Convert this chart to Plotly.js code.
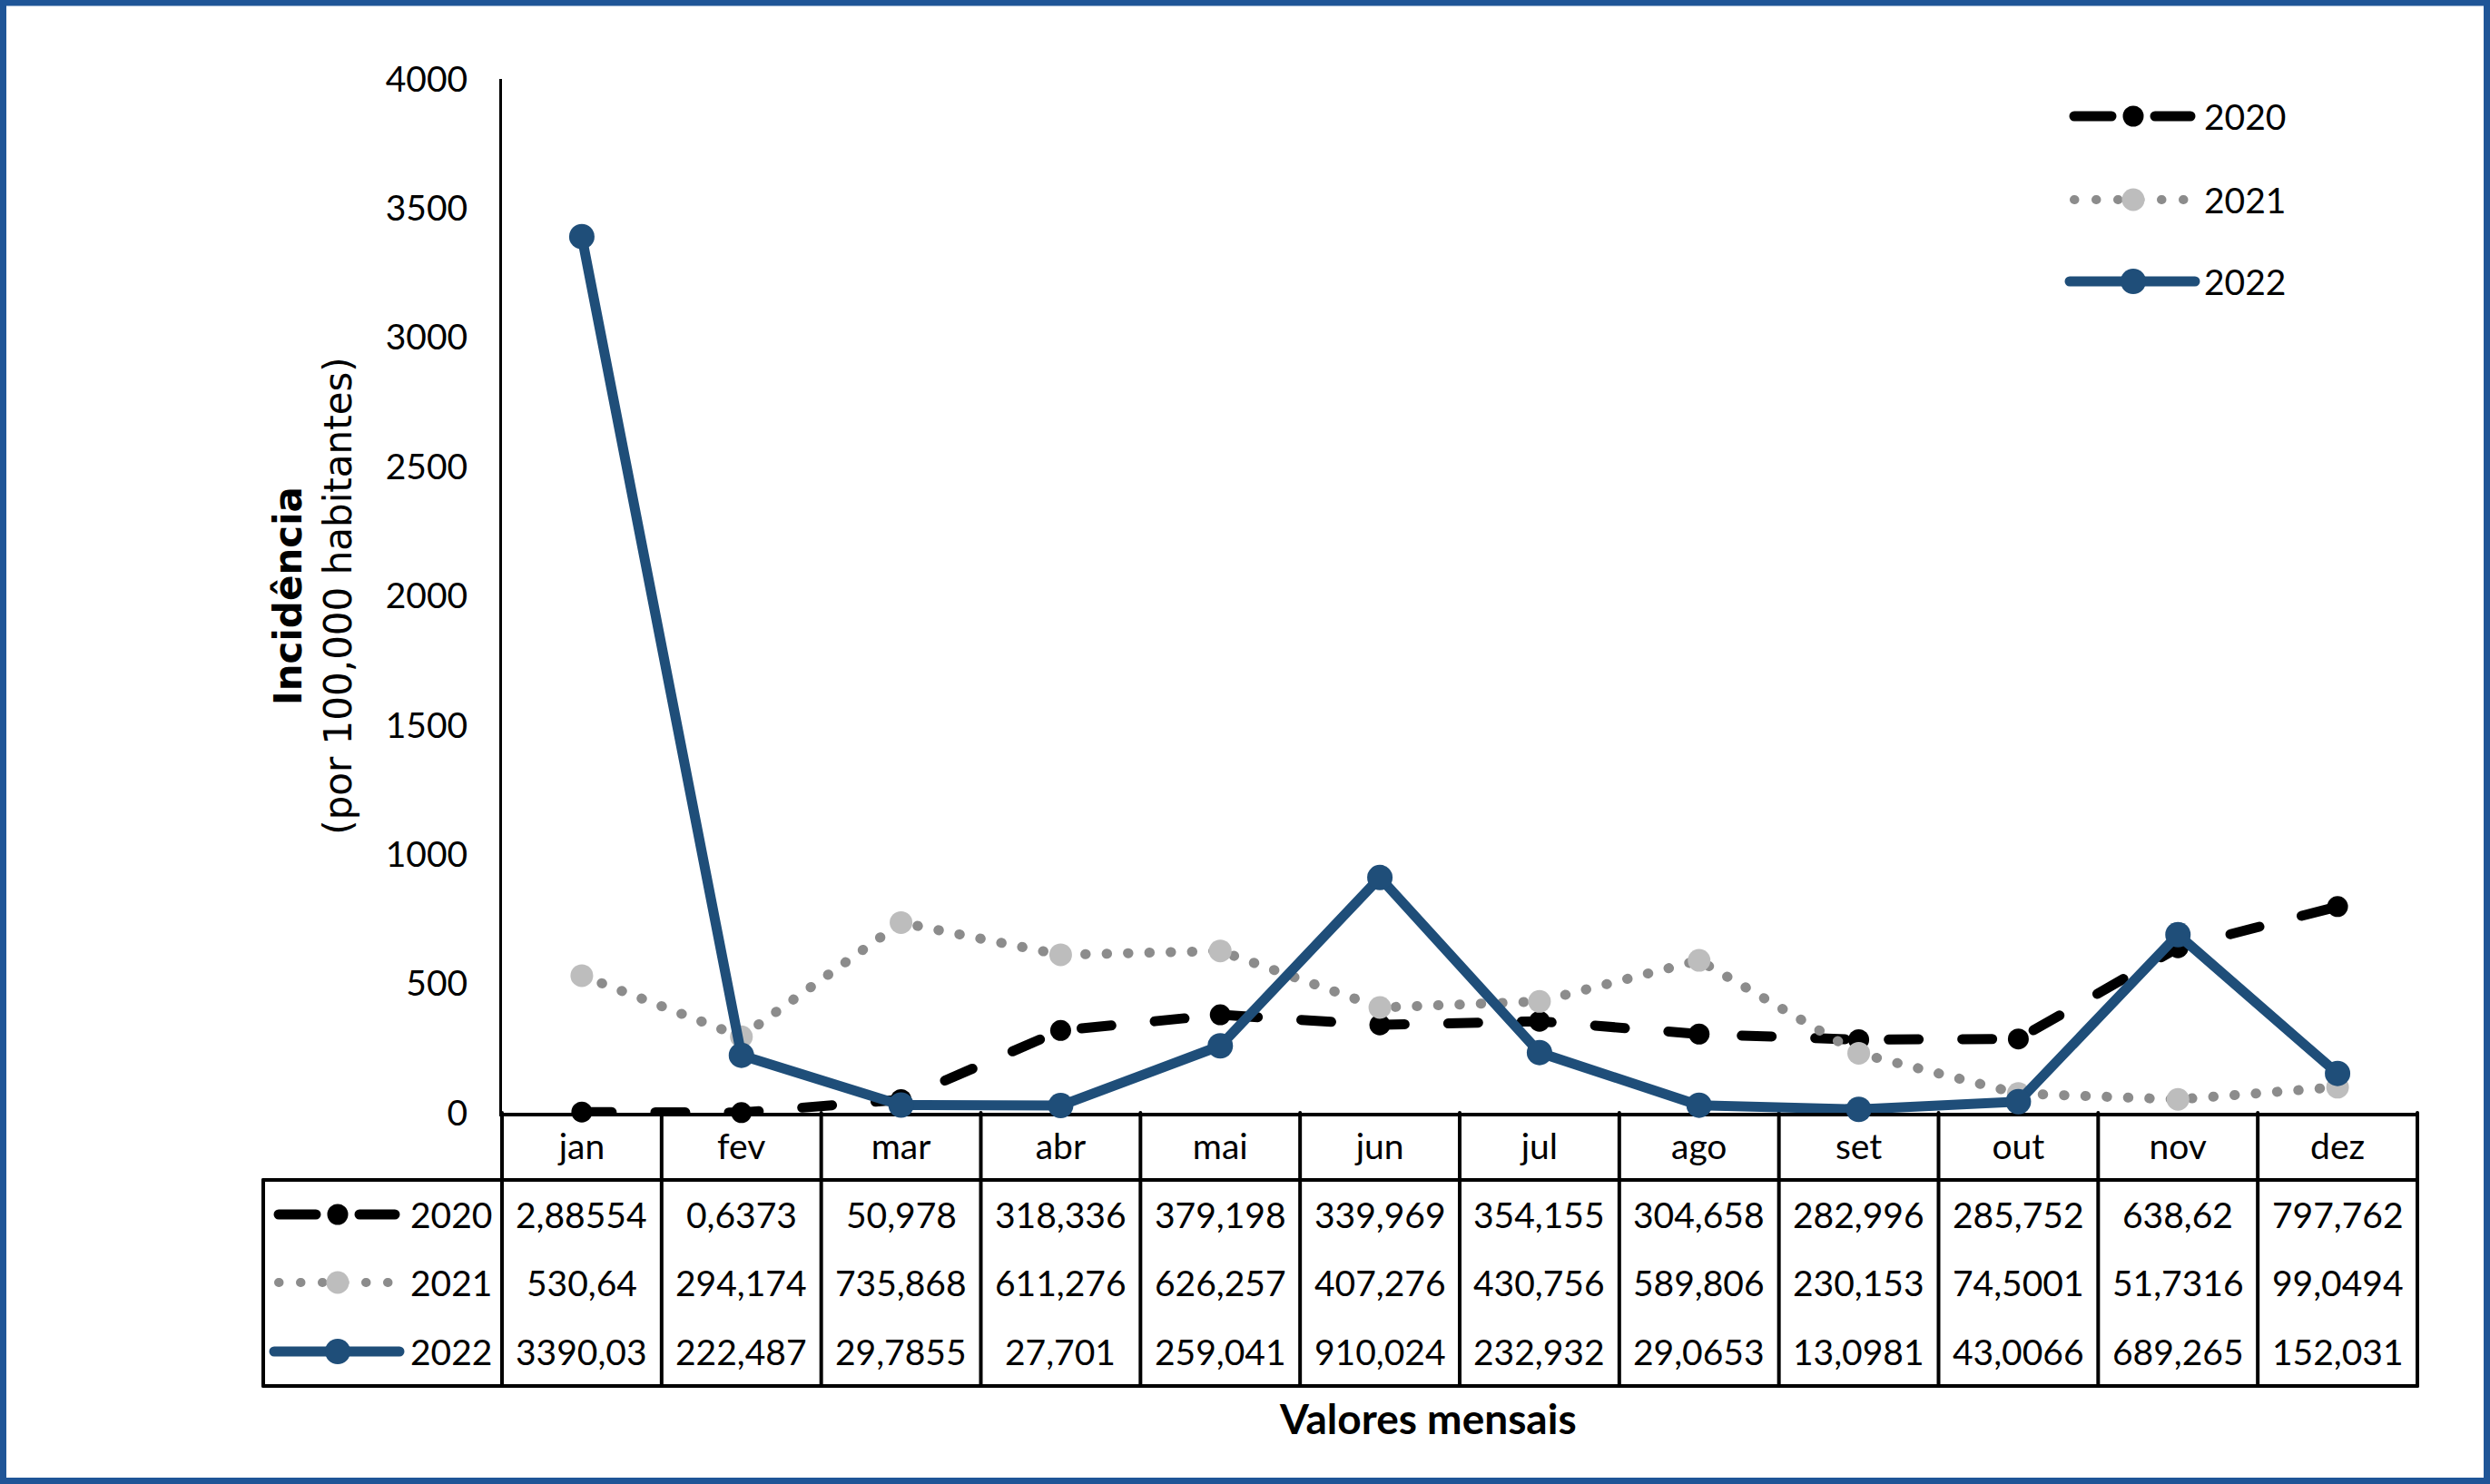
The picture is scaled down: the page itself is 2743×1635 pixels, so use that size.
<!DOCTYPE html>
<html>
<head>
<meta charset="utf-8">
<script src="https://cdn.plot.ly/plotly-3.0.1.min.js"></script>
<style>
  html, body { margin: 0; padding: 0; background: #fff; }
  #chart { width: 2743px; height: 1635px; }
  .scatterlayer .js-line { stroke-linecap: round; stroke-linejoin: round; }
  .shapelayer path { stroke-linecap: round; }
</style>
</head>
<body>
<div id="chart"></div>
<script>
// ---- data ----
const months = ['jan','fev','mar','abr','mai','jun','jul','ago','set','out','nov','dez'];
const years = ['2020','2021','2022'];
const v2020 = [2.88554, 0.6373, 50.978, 318.336, 379.198, 339.969, 354.155, 304.658, 282.996, 285.752, 638.62, 797.762];
const v2021 = [530.64, 294.174, 735.868, 611.276, 626.257, 407.276, 430.756, 589.806, 230.153, 74.5001, 51.7316, 99.0494];
const v2022 = [3390.03, 222.487, 29.7855, 27.701, 259.041, 910.024, 232.932, 29.0653, 13.0981, 43.0066, 689.265, 152.031];
const yTicks = [0, 500, 1000, 1500, 2000, 2500, 3000, 3500, 4000];

// ---- layout geometry (pixels) ----
const W = 2743, H = 1635;
const L = 553, R = 2663, T = 87, B = 1226;
const fx = px => (px - L) / (R - L);
const fy = py => (B - py) / (B - T);

const LW = 11;
const series = [
  {name: years[0], y: v2020, color: '#000000', mcolor: '#000000', dash: '33px,48px', msize: 23},
  {name: years[1], y: v2021, color: '#8c8c8c', mcolor: '#bdbdbd', dash: '0.5px,23px', msize: 25},
  {name: years[2], y: v2022, color: '#1f4e79', mcolor: '#1f4e79', dash: 'solid', msize: 28}
];

const traces = series.map(s => ({
  type: 'scatter', mode: 'lines+markers', name: s.name,
  x: months, y: s.y, cliponaxis: false, showlegend: false,
  line: {color: s.color, width: LW, dash: s.dash},
  marker: {color: s.mcolor, size: s.msize, line: {width: 0}},
  hoverinfo: 'x+y+name'
}));

const numFont = {family: 'Lato, "Open Sans", sans-serif', size: 39, color: '#000'};
const shapes = [];
const annotations = [];

// outer frame
shapes.push({type: 'rect', xref: 'paper', yref: 'paper', layer: 'above',
  x0: fx(3.5), x1: fx(W - 3.5), y0: fy(3), y1: fy(H - 3.5),
  line: {color: '#1f5597', width: 7}, fillcolor: 'rgba(0,0,0,0)'});

// table grid
const tblLeft = 290, headBot = 1300, tblBot = 1527;
const lineStyle = {color: '#000', width: 4};
for (let k = 1; k <= months.length; k++) {
  shapes.push({type: 'line', xref: 'paper', yref: 'paper', layer: 'below',
    x0: k / months.length, x1: k / months.length, y0: fy(B), y1: fy(tblBot), line: lineStyle});
}
shapes.push({type: 'line', xref: 'paper', yref: 'paper', layer: 'below',
  x0: 0, x1: 0, y0: fy(B), y1: fy(tblBot), line: lineStyle});
shapes.push({type: 'line', xref: 'paper', yref: 'paper', layer: 'below',
  x0: fx(tblLeft), x1: fx(tblLeft), y0: fy(headBot), y1: fy(tblBot), line: lineStyle});
shapes.push({type: 'line', xref: 'paper', yref: 'paper', layer: 'below',
  x0: fx(tblLeft), x1: 1, y0: fy(headBot), y1: fy(headBot), line: lineStyle});
shapes.push({type: 'line', xref: 'paper', yref: 'paper', layer: 'below',
  x0: fx(tblLeft), x1: 1, y0: fy(tblBot), y1: fy(tblBot), line: lineStyle});

// legend sample drawer
function sample(s, x0, x1, xm, py) {
  if (s.dash === 'solid') {
    shapes.push({type: 'line', xref: 'paper', yref: 'paper', x0: fx(x0), x1: fx(x1), y0: fy(py), y1: fy(py),
      line: {color: s.color, width: LW}});
  } else if (s.name === years[0]) {
    shapes.push({type: 'line', xref: 'paper', yref: 'paper', x0: fx(x0 + 5), x1: fx(xm - 24), y0: fy(py), y1: fy(py),
      line: {color: s.color, width: LW}});
    shapes.push({type: 'line', xref: 'paper', yref: 'paper', x0: fx(xm + 24), x1: fx(x1 - 5), y0: fy(py), y1: fy(py),
      line: {color: s.color, width: LW}});
  } else {
    shapes.push({type: 'line', xref: 'paper', yref: 'paper', x0: fx(x0 + 5), x1: fx(x1), y0: fy(py), y1: fy(py),
      line: {color: s.color, width: LW - 1, dash: '0.5px,23.5px'}});
  }
  const r = s.msize / 2;
  shapes.push({type: 'circle', xref: 'paper', yref: 'paper', xsizemode: 'pixel', ysizemode: 'pixel',
    xanchor: fx(xm), yanchor: fy(py), x0: -r, x1: r, y0: -r, y1: r,
    fillcolor: s.mcolor, line: {width: 0}});
}

// table rows
const rowY = [1338, 1413, 1489];
series.forEach((s, j) => {
  sample(s, 302, 440, 372, rowY[j]);
  annotations.push({xref: 'paper', yref: 'paper', x: fx(544), y: fy(rowY[j]), xanchor: 'right', yanchor: 'middle',
    text: s.name, showarrow: false, font: numFont});
  s.y.forEach((v, i) => {
    annotations.push({xref: 'paper', yref: 'paper', x: (i + 0.5) / months.length, y: fy(rowY[j]),
      xanchor: 'center', yanchor: 'middle', text: String(v).replace('.', ','), showarrow: false, font: numFont});
  });
});

// top-right legend
const legY = [128, 220, 310];
series.forEach((s, j) => {
  sample(s, 2280, 2418, 2350, legY[j]);
  annotations.push({xref: 'paper', yref: 'paper', x: fx(2426), y: fy(legY[j]), xanchor: 'left', yanchor: 'middle',
    text: s.name, showarrow: false, font: numFont});
});

// x title
annotations.push({xref: 'paper', yref: 'paper', x: fx(1573), y: fy(1562), xanchor: 'center', yanchor: 'middle',
  text: '<b>Valores mensais</b>', showarrow: false,
  font: {family: 'Lato, "Open Sans", sans-serif', size: 46, color: '#000'}});

const layout = {
  width: W, height: H,
  margin: {l: L, r: W - R, t: T, b: H - B, pad: 0},
  paper_bgcolor: '#fff', plot_bgcolor: '#fff',
  showlegend: false,
  xaxis: {
    type: 'category', categoryarray: months, range: [-0.5, 11.5],
    showgrid: false, zeroline: false, showline: true, linecolor: '#000', linewidth: 4,
    ticks: '', ticklabelstandoff: 0, tickfont: numFont, layer: 'below traces', fixedrange: true
  },
  yaxis: {
    range: [0, 4000], tickvals: yTicks, ticktext: yTicks.map(String),
    showgrid: false, zeroline: false, showline: true, linecolor: '#000', linewidth: 3,
    ticks: '', ticklabelstandoff: 27, tickfont: numFont, layer: 'below traces', fixedrange: true,
    title: {text: '<b>Incidência</b><br>(por 100,000 habitantes)', standoff: 25,
      font: {family: '"DejaVu Sans", Verdana, sans-serif', size: 42, color: '#000'}}
  },
  shapes: shapes,
  annotations: annotations
};

Plotly.newPlot('chart', traces, layout, {displayModeBar: false, staticPlot: true});
</script>
</body>
</html>
